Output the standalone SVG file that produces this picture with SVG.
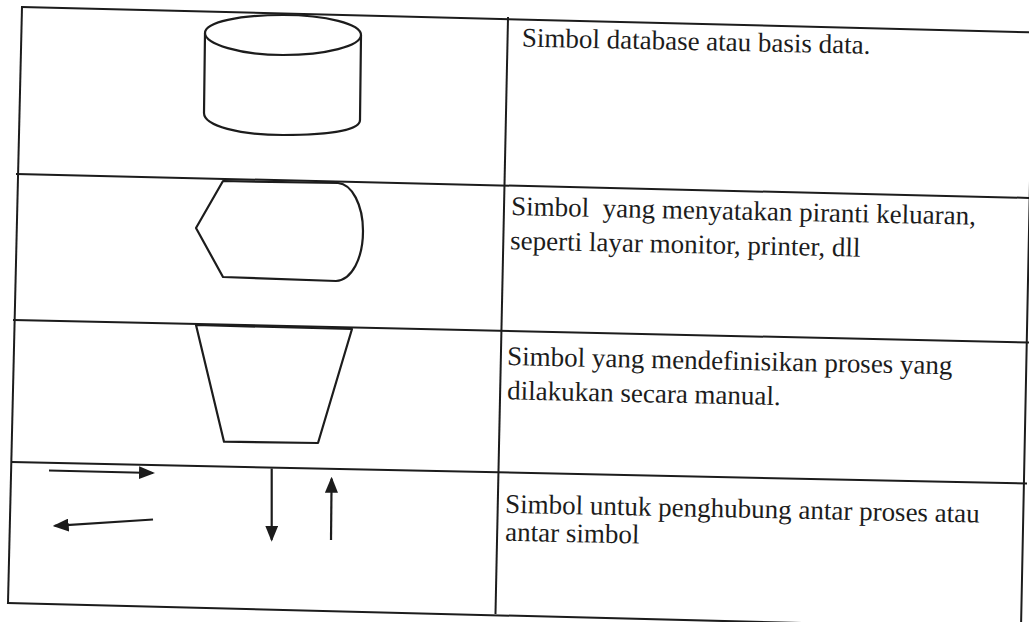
<svg xmlns="http://www.w3.org/2000/svg" width="1029" height="622" viewBox="0 0 1029 622">
<style>
.ln{stroke:#1c1c1c;stroke-width:2;fill:none;stroke-linecap:square}
.sh{stroke:#1c1c1c;stroke-width:2.2;fill:#fff;stroke-linejoin:round}
.ar{stroke:#1c1c1c;stroke-width:2.2;fill:none;marker-end:url(#ah)}
.tx{font-family:"Liberation Serif","Times New Roman",serif;font-size:27px;fill:#1c1c1c;white-space:pre}
</style>
<defs>
<marker id="ah" markerUnits="userSpaceOnUse" markerWidth="16" markerHeight="13" refX="14" refY="6.5" orient="auto"><path d="M0,0 L16,6.5 L0,13 Z" fill="#1c1c1c"/></marker>
</defs>
<rect width="1029" height="622" fill="#fff"/>
<g id="table">
<line class="ln" x1="22" y1="7" x2="1040" y2="32.5"/>
<line class="ln" x1="22" y1="7" x2="8" y2="603"/>
<line class="ln" x1="8" y1="603" x2="1040" y2="629"/>
<line class="ln" x1="1033" y1="32" x2="1021" y2="628"/>
<line class="ln" x1="508" y1="18" x2="495.5" y2="613"/>
<line class="ln" x1="17" y1="174" x2="1033" y2="198"/>
<line class="ln" x1="14" y1="320" x2="1028" y2="342.5"/>
<line class="ln" x1="12" y1="462" x2="1026" y2="483.5"/>
</g>
<g id="database-symbol">
<path class="sh" d="M205,33 L204,113 C204,126 240,135 283,135 C326,135 360,131 360,120 L361,35 Z"/>
<path class="sh" d="M205,33 C205,22 240,15 283,15 C326,15 361,24 361,35 C361,46 326,55 283,55 C240,55 205,44 205,33 Z"/>
</g>
<g id="display-symbol">
<path class="sh" d="M223,181 L338,183 C352,184 363,205 363,231 C363,258 352,280 336,281 L223,277 L196,228 Z"/>
</g>
<g id="manual-operation-symbol">
<path class="sh" d="M196,325 L352,329 L318,443 L224,441.7 Z"/>
</g>
<g id="connectors">
<line class="ar" x1="49" y1="470.5" x2="153" y2="473"/>
<line class="ar" x1="153" y1="519.5" x2="54.7" y2="525.9"/>
<line class="ar" x1="271.7" y1="468.5" x2="271.7" y2="539.7"/>
<line class="ar" x1="331" y1="540" x2="331.6" y2="478.7"/>
</g>
<g id="text-database">
<text class="tx" x="521.7" y="46.5" transform="rotate(1.2 521.7 46.5)">Simbol database atau basis data.</text>
</g>
<g id="text-display">
<text class="tx" x="511" y="215" transform="rotate(1.2 511 215)">Simbol  yang menyatakan piranti keluaran,</text>
<text class="tx" x="510" y="249.3" transform="rotate(1.2 510 249.3)">seperti layar monitor, printer, dll</text>
</g>
<g id="text-manual">
<text class="tx" x="507" y="365" transform="rotate(1.2 507 365)">Simbol yang mendefinisikan proses yang</text>
<text class="tx" x="507" y="399.3" transform="rotate(1.2 507 399.3)">dilakukan secara manual.</text>
</g>
<g id="text-connector">
<text class="tx" x="505" y="512.7" transform="rotate(1.2 505 512.7)">Simbol untuk penghubung antar proses atau</text>
<text class="tx" x="505" y="540.7" transform="rotate(1.2 505 540.7)">antar simbol</text>
</g>
</svg>
